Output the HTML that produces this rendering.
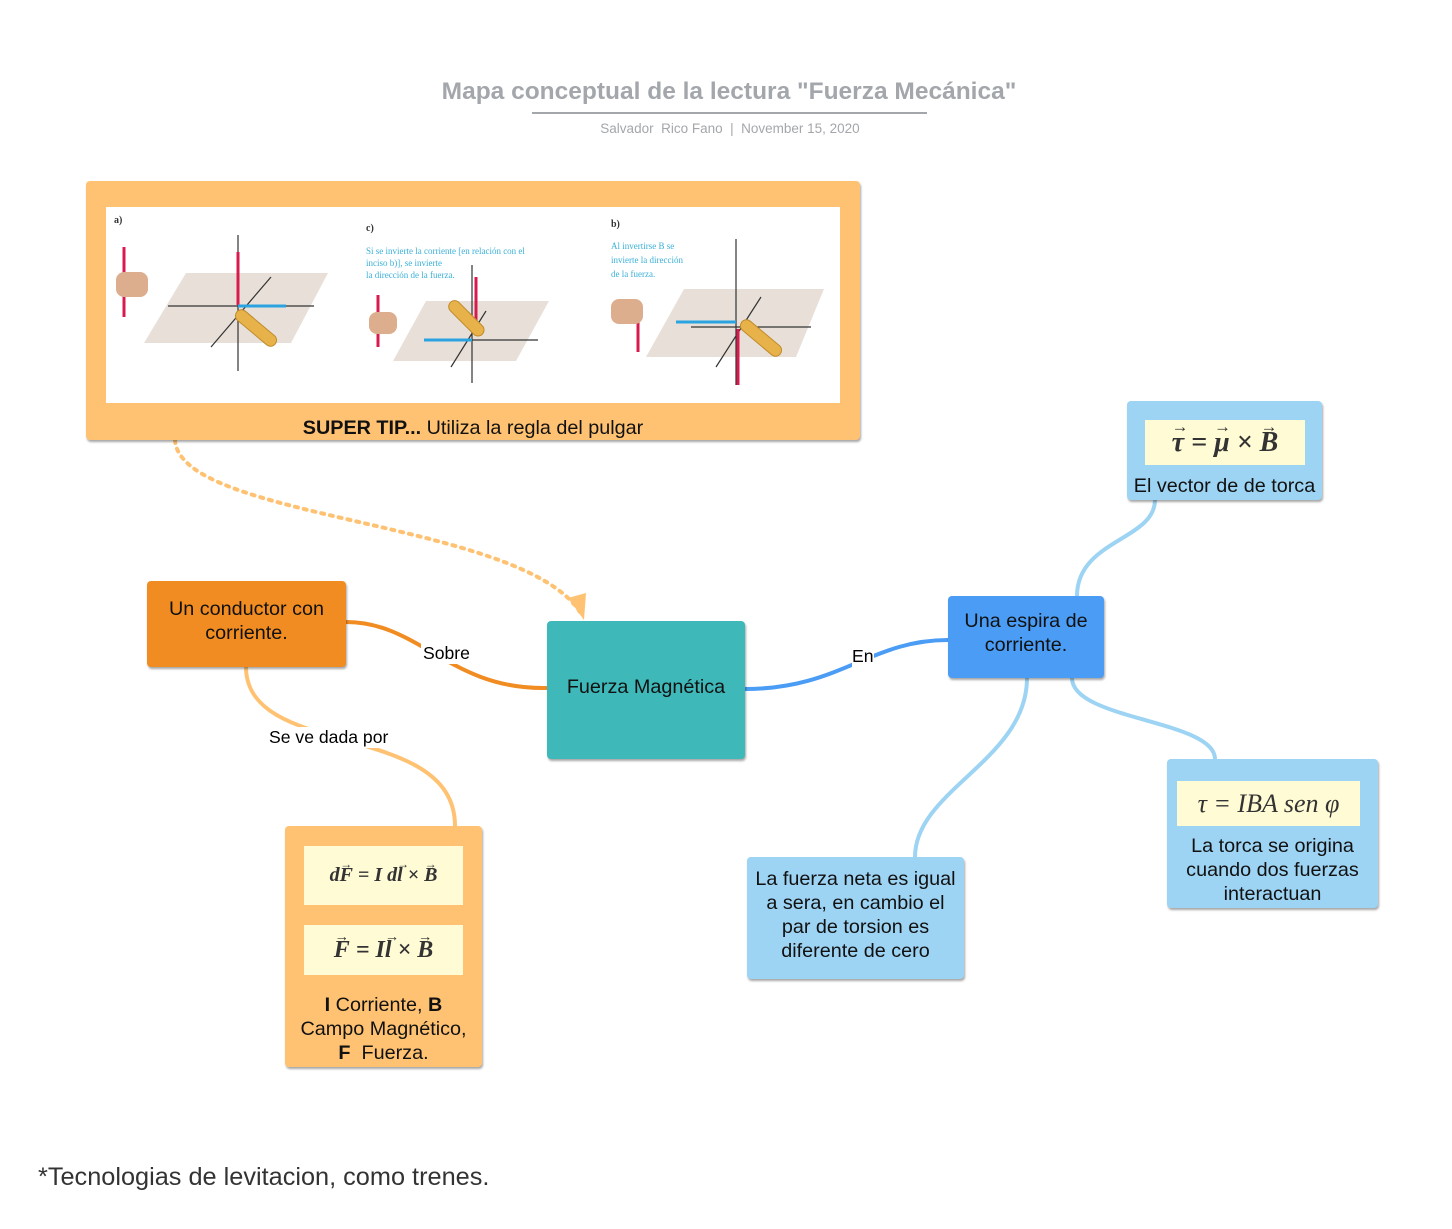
<!DOCTYPE html>
<html><head><meta charset="utf-8"><style>
body{margin:0;width:1452px;height:1229px;background:#fff;position:relative;font-family:"Liberation Sans",sans-serif;overflow:hidden}
.a{position:absolute}
.box{position:absolute;border-radius:4px;box-shadow:1px 2px 2px rgba(0,0,0,.35);box-sizing:border-box;display:flex;align-items:center;justify-content:center;text-align:center;color:#111;font-size:19.8px;line-height:24px}
.f{position:absolute;background:#fffbd5;display:flex;align-items:center;justify-content:center;font-family:"Liberation Serif",serif;font-style:italic;font-weight:bold;color:#333;white-space:nowrap}
.v{position:relative;display:inline-block}
.v::before{content:"→";position:absolute;left:0;right:0;top:-0.55em;font-size:0.6em;text-align:center;font-style:normal}
.lb{position:absolute;font-size:17.6px;background:#fff}
</style></head><body>
<div class="a" style="left:0;width:1458px;top:78px;text-align:center;font-size:24.5px;font-weight:bold;color:#a3a7ab">Mapa conceptual de la lectura "Fuerza Mecánica"</div>
<div class="a" style="left:532px;width:395px;top:112px;height:2px;background:#a3a7ab"></div>
<div class="a" style="left:0;width:1460px;top:121px;text-align:center;font-size:13.5px;color:#a3a7ab">Salvador&nbsp; Rico Fano &nbsp;|&nbsp; November 15, 2020</div>

<svg class="a" style="left:0;top:0" width="1452" height="1229">
<path d="M175 440 C180 520 520 520 580 612" fill="none" stroke="#ffc272" stroke-width="4" stroke-dasharray="3 6" stroke-linecap="round"/>
<path d="M568 598 L584 620 L586 593 Z" fill="#ffc272"/>
<path d="M346 622 C420 622 450 690 547 688" fill="none" stroke="#f08c22" stroke-width="4"/>
<path d="M745 689 C840 689 870 640 948 640" fill="none" stroke="#4a9cf5" stroke-width="4"/>
<path d="M246 667 C246 760 455 720 455 826" fill="none" stroke="#ffc272" stroke-width="4"/>
<path d="M1077 596 C1077 540 1155 540 1155 500" fill="none" stroke="#9dd3f3" stroke-width="4"/>
<path d="M1027 678 C1027 760 915 790 915 857" fill="none" stroke="#9dd3f3" stroke-width="4"/>
<path d="M1072 678 C1072 720 1215 720 1215 759" fill="none" stroke="#9dd3f3" stroke-width="4"/>
</svg>
<div class="lb" style="left:421px;top:643px;padding:0 2px">Sobre</div>
<div class="lb" style="left:852px;top:646px">En</div>
<div class="lb" style="left:266px;top:727px;padding:0 3px">Se ve dada por</div>

<div class="box" style="left:86px;top:181px;width:774px;height:259px;background:#ffc272;align-items:flex-end;padding-bottom:0px">
<span><b>SUPER TIP...</b> Utiliza la regla del pulgar</span></div>
<svg class="a" style="left:106px;top:207px;background:#fff" width="734" height="196">
<g font-family="Liberation Serif" font-size="10" fill="#333" font-weight="bold">
<text x="8" y="16">a)</text><text x="260" y="24">c)</text><text x="505" y="20">b)</text></g>
<g font-family="Liberation Serif" font-size="9" fill="#3ab0d8">
<text x="260" y="47">Si se invierte la corriente [en relación con el</text><text x="260" y="59">inciso b)], se invierte</text><text x="260" y="71">la dirección de la fuerza.</text>
<text x="505" y="42">Al invertirse B se</text><text x="505" y="56">invierte la dirección</text><text x="505" y="70">de la fuerza.</text></g>
<polygon points="80,66 222,66 185,136 38,136" fill="#e8e0d8"/>
<polygon points="320,94 443,94 410,154 287,154" fill="#e8e0d8"/>
<polygon points="578,82 718,82 690,150 540,150" fill="#e8e0d8"/>
<g stroke="#333" stroke-width="1.2" fill="none">
<path d="M132 28V164M62 99H208M165 70L105 140"/><path d="M366 58V176M323 133H432M380 104L345 160"/><path d="M630 32V178M585 120H705M655 90L610 160"/></g>
<g stroke="#d81b4f" stroke-width="3"><path d="M132 98V45M18 110V40M370 124V70M272 140V88M632 122V178M532 95V145"/></g>
<g stroke="#2aa3e0" stroke-width="3"><path d="M132 99H180M366 133H318M630 115H570"/></g>
<g fill="#e8b24a" stroke="#c08a2a"><rect x="125" y="115" width="50" height="12" rx="6" transform="rotate(40 150 121)"/><rect x="338" y="105" width="45" height="12" rx="6" transform="rotate(45 360 111)"/><rect x="630" y="125" width="50" height="12" rx="6" transform="rotate(40 655 131)"/></g>
<g fill="#dcae8e"><rect x="10" y="65" width="32" height="25" rx="8"/><rect x="263" y="105" width="28" height="22" rx="8"/><rect x="505" y="92" width="32" height="25" rx="8"/></g>
</svg>

<div class="box" style="left:147px;top:581px;width:199px;height:86px;background:#f08c22;padding-bottom:6px">Un conductor con corriente.</div>
<div class="box" style="left:547px;top:621px;width:198px;height:138px;background:#3eb8b8;padding-bottom:6px">Fuerza Magnética</div>
<div class="box" style="left:948px;top:596px;width:156px;height:82px;background:#4a9cf5;padding-bottom:8px">Una espira de corriente.</div>

<div class="box" style="left:1127px;top:401px;width:195px;height:99px;background:#9dd3f3;align-items:flex-end;padding-bottom:2px">El vector de de torca</div>
<div class="f" style="left:1145px;top:420px;width:160px;height:45px;font-size:28px"><span class="v">τ</span>&nbsp;=&nbsp;<span class="v">μ</span>&nbsp;×&nbsp;<span class="v">B</span></div>

<div class="box" style="left:1167px;top:759px;width:211px;height:149px;background:#9dd3f3;align-items:flex-end;padding:0 8px 2px">La torca se origina cuando dos fuerzas interactuan</div>
<div class="f" style="left:1177px;top:781px;width:183px;height:45px;font-size:26px;font-weight:normal">τ = IBA sen φ</div>

<div class="box" style="left:747px;top:857px;width:217px;height:122px;background:#9dd3f3;padding:0 4px 6px">La fuerza neta es igual a sera, en cambio el par de torsion es diferente de cero</div>

<div class="box" style="left:285px;top:826px;width:197px;height:241px;background:#ffc272;align-items:flex-end;padding:0 8px 2px"><span><b>I</b> Corriente, <b>B</b> Campo Magnético, <b>F</b>&nbsp; Fuerza.</span></div>
<div class="f" style="left:304px;top:846px;width:159px;height:59px;font-size:20px">d<span class="v">F</span>&nbsp;= I d<span class="v">l</span>&nbsp;×&nbsp;<span class="v">B</span></div>
<div class="f" style="left:304px;top:925px;width:159px;height:50px;font-size:24px"><span class="v">F</span>&nbsp;= I<span class="v">l</span>&nbsp;×&nbsp;<span class="v">B</span></div>

<div class="a" style="left:38px;top:1163px;font-size:25.3px;color:#333">*Tecnologias de levitacion, como trenes.</div>
</body></html>
